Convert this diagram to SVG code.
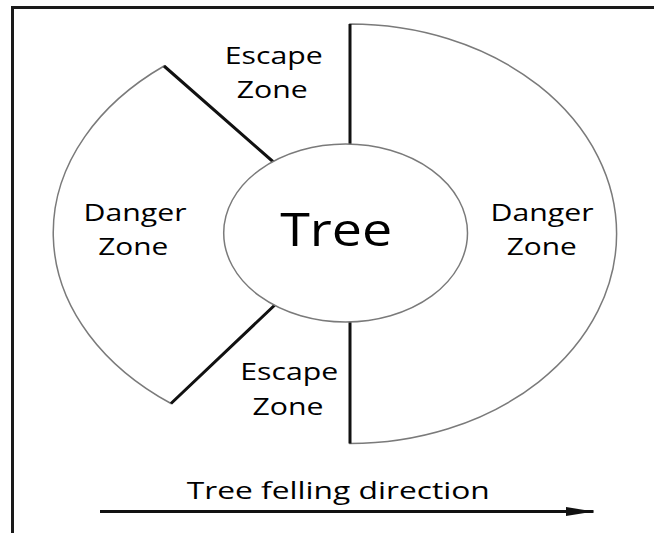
<svg xmlns="http://www.w3.org/2000/svg" width="654" height="533" viewBox="0 0 654 533">
<style>
.lbl{font-family:"Open Sans","Noto Sans",sans-serif;font-size:24.5px;fill:#000;text-anchor:middle}
.big{font-size:45px}
.arc{fill:#fff;stroke:#7a7a7a;stroke-width:1.5}
.edge{fill:none;stroke:#111;stroke-width:3;stroke-linecap:butt}
</style>
<defs>
<marker id="ah" markerUnits="userSpaceOnUse" markerWidth="30" markerHeight="12" refX="28" refY="6" orient="auto">
<path d="M0,1.5 L28.5,6 L0,10.5 Z" fill="#111"/>
</marker>
</defs>
<rect width="654" height="533" fill="#fff"/>
<path d="M12.5,533 V7.5 H654" fill="none" stroke="#1a1a1a" stroke-width="3"/>
<g id="danger-right">
<path class="arc" d="M350,24 A266.7,209.75 0 0 1 350,443.5 Z"/>
<path class="edge" d="M350,24 V443.5"/>
<text class="lbl" x="542" y="220.7" textLength="103" lengthAdjust="spacingAndGlyphs">Danger</text>
<text class="lbl" x="541.7" y="255" textLength="70" lengthAdjust="spacingAndGlyphs">Zone</text>
</g>
<g id="danger-left">
<path class="arc" d="M164,66 A293,213 0 0 0 171,403.5 L278,302 L278,166 Z"/>
<path class="edge" d="M164,66 L278,166 M171,403.5 L278,302"/>
<text class="lbl" x="135" y="220.7" textLength="103" lengthAdjust="spacingAndGlyphs">Danger</text>
<text class="lbl" x="133.3" y="255" textLength="70" lengthAdjust="spacingAndGlyphs">Zone</text>
</g>
<g id="tree">
<ellipse cx="345.6" cy="233" rx="121.9" ry="89" fill="#fff" stroke="#7a7a7a" stroke-width="1.5"/>
<text class="lbl big" x="336.2" y="246" textLength="112" lengthAdjust="spacingAndGlyphs">Tree</text>
</g>
<g id="escape-top">
<text class="lbl" x="273.7" y="64.3" textLength="98" lengthAdjust="spacingAndGlyphs">Escape</text>
<text class="lbl" x="272.3" y="98.3" textLength="71" lengthAdjust="spacingAndGlyphs">Zone</text>
</g>
<g id="escape-bottom">
<text class="lbl" x="289.2" y="380" textLength="98" lengthAdjust="spacingAndGlyphs">Escape</text>
<text class="lbl" x="288" y="415" textLength="71" lengthAdjust="spacingAndGlyphs">Zone</text>
</g>
<g id="connectors">
<line x1="100" y1="511.5" x2="593.5" y2="511.5" stroke="#111" stroke-width="3" marker-end="url(#ah)"/>
<text class="lbl" x="338.3" y="499.3" textLength="303" lengthAdjust="spacingAndGlyphs">Tree felling direction</text>
</g>
</svg>
